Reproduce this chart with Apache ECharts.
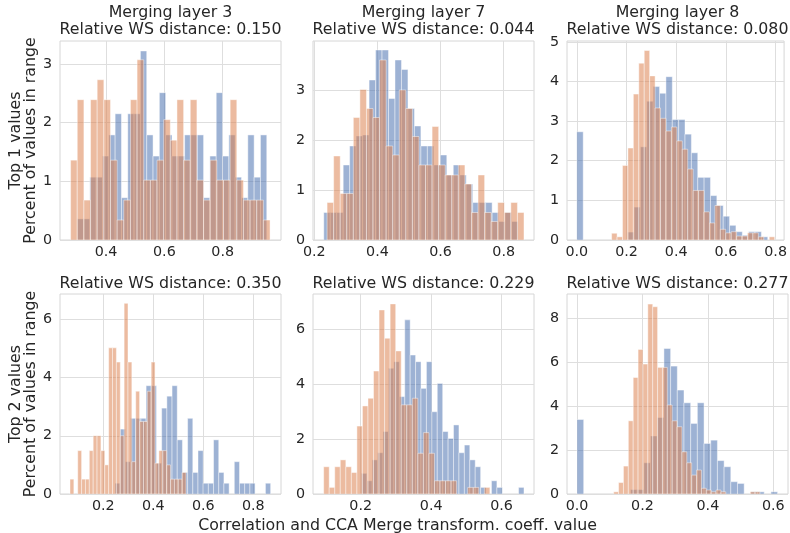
<!DOCTYPE html>
<html><head><meta charset="utf-8">
<script src="https://cdn.jsdelivr.net/npm/echarts@6/dist/echarts.min.js"></script>
<style>html,body{margin:0;padding:0;background:#fff}#c{width:790px;height:533px}</style>
</head><body><div id="c"></div>
<script>
// ---------------- data ----------------
const layerTitles = ['Merging layer 3', 'Merging layer 7', 'Merging layer 8'];
const wsDistances = ['0.150', '0.044', '0.080', '0.350', '0.229', '0.277'];
const rowLabels = ['Top 1 values', 'Top 2 values'];
const yLabel = 'Percent of values in range';
const xLabel = 'Correlation and CCA Merge transform. coeff. value';

const xTickValues = [[0.4, 0.6, 0.8], [0.2, 0.4, 0.6, 0.8], [0.0, 0.2, 0.4, 0.6, 0.8],
                     [0.2, 0.4, 0.6, 0.8], [0.2, 0.4, 0.6], [0.0, 0.2, 0.4, 0.6]];
const yTickValues = [[0, 1, 2, 3], [0, 1, 2, 3], [0, 1, 2, 3, 4, 5],
                     [0, 2, 4, 6], [0, 2, 4, 6], [0, 2, 4, 6, 8]];
const xRanges = [[0.242, 1.0], [0.196, 0.896], [-0.0396, 0.834],
                 [0.0267, 0.911], [0.0645, 0.692], [-0.0306, 0.645]];
const yMax = [3.39, 3.98, 5.02, 6.87, 7.27, 9.1];

// histogram bins: first edge and bin width of each series, per panel
const blueBinStart   = [0.3011, 0.2301, 0.0,     0.2467, 0.2019, 0.0];
const blueBinWidth   = [0.02167, 0.02051, 0.02561, 0.02076, 0.01539, 0.02044];
const orangeBinStart = [0.2784, 0.2406, 0.140,   0.0667, 0.0948, 0.1122];
const orangeBinWidth = [0.0228, 0.02079, 0.02187, 0.01547, 0.01573, 0.0149];

// bar heights (percent), panel by panel
const blueL3Top1 = [0.36, 0.36, 1.07, 1.07, 1.43, 1.79, 2.15, 0.72, 2.15, 2.15, 3.22, 1.79, 1.43, 2.51, 1.79,
                    1.43, 1.43, 1.79, 1.79, 1.79, 0.72, 1.43, 2.51, 1.43, 1.79, 1.07, 0.72, 1.79, 1.07, 1.79];
const orangeL3Top1 = [1.36, 2.39, 0.68, 2.39, 2.73, 2.39, 1.36, 0.34, 0.68, 2.39, 3.07, 1.02, 1.02, 1.36, 2.05,
                      1.70, 2.39, 1.36, 2.39, 1.02, 0.68, 1.36, 1.02, 1.02, 2.39, 1.02, 0.68, 0.68, 0.68, 0.34];
const blueL7Top1 = [0.55, 0.55, 0.55, 1.5, 1.88, 2.08, 2.1, 3.2, 3.8, 3.8, 2.83, 3.6, 3.41, 2.63, 2.28,
                    1.88, 1.88, 1.5, 1.7, 1.3, 1.5, 1.3, 1.12, 0.75, 0.75, 0.75, 0.55, 0.37, 0.55, 0.37];
const orangeL7Top1 = [0.75, 1.68, 0.93, 0.93, 2.45, 3.01, 2.63, 2.45, 3.6, 1.88, 1.7, 3.0, 2.63, 2.07, 1.5,
                      1.5, 2.27, 1.5, 1.3, 1.3, 1.5, 1.12, 0.55, 1.3, 0.55, 0.37, 0.75, 0.55, 0.75, 0.55];
const blueL8Top1 = [2.73, 0, 0, 0, 0, 0, 0, 0, 0.2, 0.83, 2.35, 3.5, 3.87, 3.7, 4.12,
                    3.04, 3.04, 2.67, 2.2, 1.58, 1.58, 1.12, 0.87, 0.6, 0.37, 0.21, 0.12, 0.21, 0.21, 0.08];
const orangeL8Top1 = [0.17, 0.08, 1.88, 2.32, 3.68, 4.46, 4.78, 4.14, 3.33, 3.07, 2.75, 2.85, 2.5, 2.29, 1.79,
                      1.25, 1.25, 0.71, 0.43, 0.87, 0.27, 0.18, 0.21, 0.1, 0.1, 0.18, 0.18, 0.08, 0.0, 0.08];
const blueL3Top2 = [0.37, 2.23, 1.11, 2.6, 2.6, 2.6, 3.72, 3.72, 1.06, 2.95, 3.36, 3.72, 1.86, 0.74, 2.6,
                    0.74, 1.49, 0.37, 0.37, 1.86, 0.74, 0.37, 0, 1.11, 0.37, 0.37, 0.37, 0, 0, 0.37];
const orangeL3Top2 = [0.51, 0, 1.49, 0.51, 0.51, 1.49, 2.0, 2.0, 1.49, 1.0, 5.02, 5.02, 4.53, 2.0, 6.55,
                      4.53, 1.11, 3.53, 2.49, 2.49, 3.53, 4.53, 1.06, 1.49, 1.49, 1.0, 0.51, 0.51, 0.51, 0.74];
const blueL7Top2 = [0.75, 0.48, 1.24, 1.5, 2.27, 4.57, 4.81, 3.54, 6.33, 5.05, 4.81, 3.84, 4.81, 2.99, 4.02,
                    2.27, 2.02, 2.51, 1.5, 1.78, 1.24, 0.99, 0.24, 0, 0.48, 0.24, 0, 0, 0, 0.24];
const orangeL7Top2 = [0.99, 0.24, 0.99, 1.24, 0.99, 0.78, 2.47, 3.2, 3.48, 4.47, 6.69, 5.66, 6.91, 5.2, 3.24,
                      3.24, 3.48, 1.48, 2.23, 1.48, 0.48, 0.48, 0.48, 0.48, 0, 0, 0.24, 0.24, 0, 0.24];
const blueL8Top2 = [3.39, 0, 0, 0, 0, 0, 0, 0, 0.2, 0.2, 1.42, 2.64, 3.48, 6.62, 5.82,
                    4.73, 4.15, 3.21, 4.15, 2.3, 2.45, 1.52, 1.24, 0.56, 0.48, 0, 0.1, 0.1, 0, 0.1];
const orangeL8Top2 = [0.1, 0.52, 1.27, 3.33, 5.3, 6.58, 5.91, 8.64, 8.52, 5.76, 5.76, 4.05, 3.33, 3.06, 1.92,
                      1.42, 0.86, 1.09, 0.26, 0.18, 0.1, 0.18, 0.1, 0, 0, 0, 0, 0, 0.1, 0.1];

const blueHeights = [blueL3Top1, blueL7Top1, blueL8Top1, blueL3Top2, blueL7Top2, blueL8Top2];
const orangeHeights = [orangeL3Top1, orangeL7Top1, orangeL8Top1, orangeL3Top2, orangeL7Top2, orangeL8Top2];

// ---------------- chart ----------------
const FONT = 'DejaVu Sans';
const TXT = '#262626';
const BLUE = 'rgba(76,114,176,0.55)';
const ORANGE = 'rgba(221,132,82,0.55)';
const lefts = [60, 313, 567];
const tops = [41, 294];
const heights = [199, 200];
const W = 221;

function binsToData(start, width, h) {
  return h.map((v, i) => [start + i * width, start + (i + 1) * width, v]);
}
function barRenderer(color) {
  return function (params, api) {
    const h = api.value(2);
    if (!(h > 0)) return null;
    const a = api.coord([api.value(0), h]);
    const b = api.coord([api.value(1), 0]);
    return {
      type: 'rect',
      shape: { x: a[0], y: a[1], width: b[0] - a[0], height: b[1] - a[1] },
      style: { fill: color, stroke: 'rgba(255,255,255,0.55)', lineWidth: 0.8 }
    };
  };
}

const grid = [], xAxis = [], yAxis = [], series = [], graphic = [];
for (let p = 0; p < 6; p++) {
  const r = Math.floor(p / 3), c = p % 3;
  grid.push({ left: lefts[c], top: tops[r], width: W, height: heights[r], show: true,
              borderColor: '#d6d6d6', borderWidth: 1, backgroundColor: '#fff', containLabel: false });
  xAxis.push({
    type: 'value', gridIndex: p, min: xRanges[p][0], max: xRanges[p][1],
    axisLine: { show: false }, axisTick: { show: false, customValues: xTickValues[p] },
    axisLabel: { customValues: xTickValues[p], formatter: v => v.toFixed(1), color: TXT,
                 fontFamily: FONT, fontSize: 14.3, margin: 5 },
    splitLine: { show: true, lineStyle: { color: '#dedede', width: 1 } }
  });
  yAxis.push({
    type: 'value', gridIndex: p, min: 0, max: yMax[p],
    axisLine: { show: false }, axisTick: { show: false, customValues: yTickValues[p] },
    axisLabel: { customValues: yTickValues[p], formatter: v => String(Math.round(v)), color: TXT,
                 fontFamily: FONT, fontSize: 14.3, margin: 8 },
    splitLine: { show: true, lineStyle: { color: '#dedede', width: 1 } }
  });
  series.push({
    type: 'custom', xAxisIndex: p, yAxisIndex: p, clip: true, z: 2,
    renderItem: barRenderer(BLUE), encode: { x: [0, 1], y: 2 },
    data: binsToData(blueBinStart[p], blueBinWidth[p], blueHeights[p])
  });
  series.push({
    type: 'custom', xAxisIndex: p, yAxisIndex: p, clip: true, z: 3,
    renderItem: barRenderer(ORANGE), encode: { x: [0, 1], y: 2 },
    data: binsToData(orangeBinStart[p], orangeBinWidth[p], orangeHeights[p])
  });
  const cx = lefts[c] + W / 2;
  if (r === 0) {
    graphic.push({ type: 'text', x: cx, y: 12.5, style: { text: layerTitles[c], fill: TXT,
      font: '15.8px "' + FONT + '"', textAlign: 'center', textVerticalAlign: 'middle', align: 'center', verticalAlign: 'middle' } });
  }
  graphic.push({ type: 'text', x: cx, y: r === 0 ? 29.5 : 283.8, style: { text: 'Relative WS distance: ' + wsDistances[p], fill: TXT,
    font: '15.8px "' + FONT + '"', textAlign: 'center', textVerticalAlign: 'middle', align: 'center', verticalAlign: 'middle' } });
}
for (let r = 0; r < 2; r++) {
  const cy = tops[r] + heights[r] / 2;
  graphic.push({ type: 'text', x: 15.5, y: cy, rotation: Math.PI / 2, style: { text: rowLabels[r], fill: TXT,
    font: '15.8px "' + FONT + '"', textAlign: 'center', textVerticalAlign: 'middle', align: 'center', verticalAlign: 'middle' } });
  graphic.push({ type: 'text', x: 31, y: cy, rotation: Math.PI / 2, style: { text: yLabel, fill: TXT,
    font: '15.8px "' + FONT + '"', textAlign: 'center', textVerticalAlign: 'middle', align: 'center', verticalAlign: 'middle' } });
}
graphic.push({ type: 'text', x: 397.5, y: 525.7, style: { text: xLabel, fill: TXT,
  font: '15.8px "' + FONT + '"', textAlign: 'center', textVerticalAlign: 'middle', align: 'center', verticalAlign: 'middle' } });

const chart = echarts.init(document.getElementById('c'), null, { renderer: 'canvas' });
chart.setOption({ animation: false, backgroundColor: '#fff', grid, xAxis, yAxis, series, graphic });
</script></body></html>
